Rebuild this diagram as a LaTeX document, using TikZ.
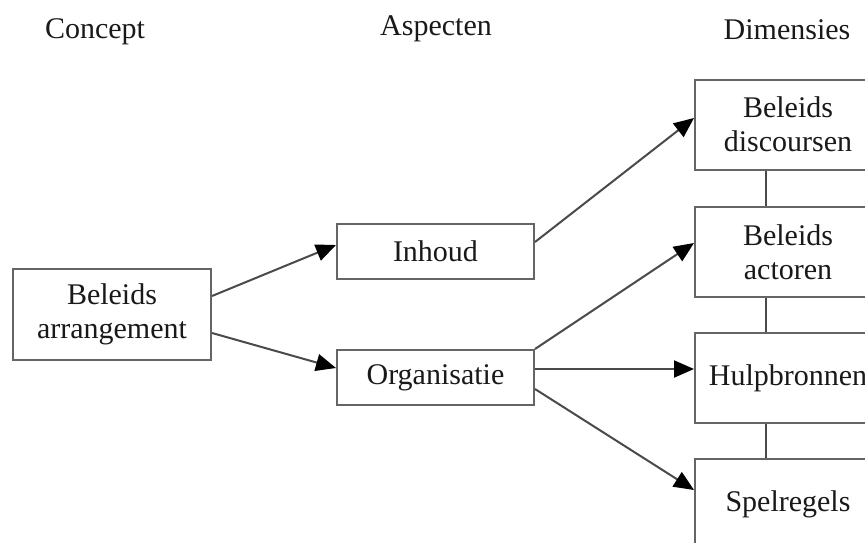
\documentclass[tikz,border=0pt]{standalone}
\usepackage{fontspec}
\setmainfont{Liberation Serif}
\usetikzlibrary{arrows.meta}
\definecolor{boxgray}{HTML}{656565}
\definecolor{linegray}{HTML}{4A4A4A}
\begin{document}
\begin{tikzpicture}[x=1pt,y=-1pt,
  box/.style={draw=boxgray, line width=2pt, fill=white, inner sep=0pt, align=center,
              font=\fontsize{30}{34}\selectfont, text=black!90},
  dimbox/.style={box, minimum width=186pt, minimum height=90pt},
  aspbox/.style={box, minimum width=197pt, minimum height=55pt},
  conn/.style={draw=linegray, line width=2pt},
  arr/.style={conn, -{Triangle[length=20pt,width=17pt,black]}},
  head/.style={font=\fontsize{30}{34}\selectfont, text=black!90, inner sep=0pt}]
\useasboundingbox (0,0) rectangle (865,542);
\clip (0,0) rectangle (865,542);
% headers
\node[head] (hc) at (95,32) {Concept};
\node[head] (ha) at (436,29) {Aspecten};
\node[head] (hd) at (787,30) {Dimensies};
% boxes
\node[box, minimum width=198pt, minimum height=91pt] (ba) at (112,314) {Beleids\\arrangement};
\node[aspbox] (inh) at (435.5,251.5) {Inhoud};
\node[aspbox] (org) at (435.5,377.5) {Organisatie};
\node[dimbox] (d1) at (788,124.5) {Beleids\\discoursen};
\node[dimbox] (d2) at (788,252) {Beleids\\actoren};
\node[dimbox] (d3) at (788,378) {Hulpbronnen};
\node[dimbox] (d4) at (788,504) {Spelregels};
% vertical connectors
\draw[conn] ([xshift=-22pt]d1.south) -- ([xshift=-22pt]d2.north);
\draw[conn] ([xshift=-22pt]d2.south) -- ([xshift=-22pt]d3.north);
\draw[conn] ([xshift=-22pt]d3.south) -- ([xshift=-22pt]d4.north);
% arrows
\draw[arr] ([yshift=18pt]ba.east) -- ([yshift=6.5pt]inh.west);
\draw[arr] ([yshift=-19pt]ba.east) -- ([yshift=9.5pt]org.west);
\draw[arr] ([yshift=9.5pt]inh.east) -- ([yshift=6.5pt]d1.west);
\draw[arr] (org.north east) -- ([yshift=9pt]d2.west);
\draw[arr] ([yshift=8.5pt]org.east) -- ([yshift=9pt]d3.west);
\draw[arr] ([yshift=-11.5pt]org.east) -- ([yshift=14pt]d4.west);
\end{tikzpicture}
\end{document}
